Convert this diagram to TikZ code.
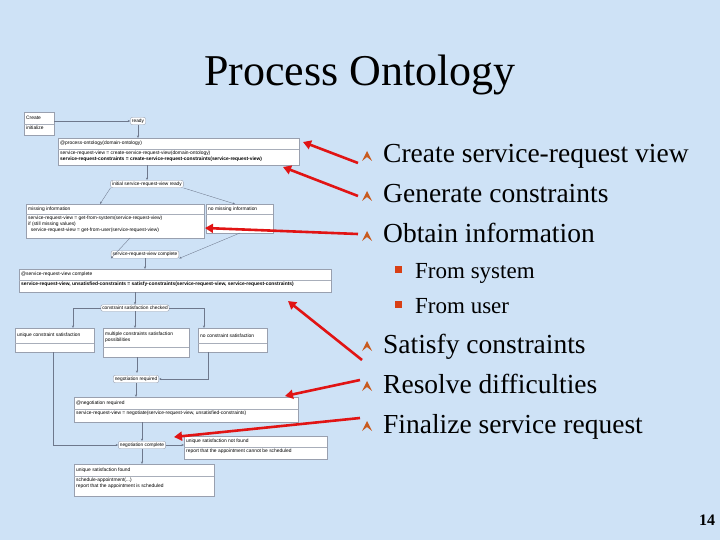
\documentclass[tikz,border=0pt]{standalone}
\usepackage{fontspec}
\setmainfont{Liberation Serif}
\newfontfamily\diag{Liberation Sans}
\usetikzlibrary{arrows.meta}
\definecolor{bg}{RGB}{206,226,246}
\definecolor{ln}{RGB}{110,120,140}
\definecolor{bul}{RGB}{200,90,30}
\definecolor{redar}{RGB}{225,20,20}
\tikzset{
 ubx/.style={draw=ln!70,fill=white,line width=0.4pt,inner sep=0pt},
 st/.style={draw=ln!70,fill=white,rounded corners=2pt,font=\diag\fontsize{4.8}{5}\selectfont,inner sep=1.5pt},
 dt/.style={font=\diag\fontsize{4.9}{6}\selectfont,inner sep=0pt,align=left},
 con/.style={draw=ln,line width=0.35pt,-{Stealth[length=2.5pt,width=2pt]}},
 rarr/.style={draw=redar,line width=2.6pt,-{Triangle[length=8pt,width=9pt]}},
 btxt/.style={font=\fontsize{27.5}{29}\selectfont,anchor=base west,inner sep=0pt},
 stxt/.style={font=\fontsize{23}{25}\selectfont,anchor=base west,inner sep=0pt}
}
\newcommand\ubox[8]{%
 \node[ubx,anchor=north west,minimum width=#4pt-#2pt,minimum height=#5pt-#3pt] (#1) at (#2,#3) {};
 \draw[ln!60,line width=0.3pt] (#2,#6) -- (#4,#6);
 \node[dt,anchor=west] at (#2+2,{(#3+#6)/2}) {#7};
 \node[dt,anchor=north west] at (#2+2,#6+1.5) {#8};}
\newcommand\bsym[2]{\fill[bul] (#1-5,#2) -- (#1,#2-10) -- (#1+5,#2) -- (#1,#2-4) -- cycle;}
\begin{document}
\begin{tikzpicture}[x=1pt,y=-1pt]
\fill[bg] (0,0) rectangle (720,540);
\useasboundingbox (0,0) rectangle (720,540);
\node[font=\fontsize{44}{46}\selectfont] (title) at (360,75) {Process Ontology};
% diagram
\ubox{ci}{24}{112}{54}{135}{124}{Create}{initialize}
\node[st] (ready) at (138,121) {ready};
\ubox{po}{58}{138}{299}{165}{149}{@process-ontology(domain-ontology)}{service-request-view = create-service-request-view(domain-ontology)\\\textbf{service-request-constraints = create-service-request-constraints(service-request-view)}}
\node[st] (init) at (147,184) {initial service-request-view ready};
\ubox{mi}{26}{204}{204}{238}{214}{missing information}{service-request-view = get-from-system(service-request-view)\\if (still missing values)\\\ \ service-request-view = get-from-user(service-request-view)}
\ubox{nm}{206}{204}{273}{233}{214}{no missing information}{}
\node[st] (comp) at (145,254.5) {service-request-view complete};
\ubox{sc}{19}{269}{331}{292}{280}{@service-request-view complete}{\textbf{service-request-view, unsatisfied-constraints = satisfy-constraints(service-request-view, service-request-constraints)}}
\node[st] (chk) at (135,308) {constraint satisfaction checked};
\ubox{uc}{15}{328}{94}{352}{343}{unique constraint satisfaction}{}
\ubox{mc}{103}{328}{189}{357}{347}{multiple constraints satisfaction\\possibilities}{}
\ubox{nc}{198}{328}{267}{352}{343}{no constraint satisfaction}{}
\node[st] (nr) at (136,379) {negotiation required};
\ubox{nb}{74}{397}{298}{422}{409}{@negotiation required}{service-request-view = negotiate(service-request-view, unsatisfied-constraints)}
\node[st] (nco) at (142,445) {negotiation complete};
\ubox{nf}{184}{436}{327}{459}{447}{unique satisfaction not found}{report that the appointment cannot be scheduled}
\ubox{fd}{74}{464}{214}{496}{476}{unique satisfaction found}{schedule-appointment(...)\\report that the appointment is scheduled}
% connectors
\draw[con] (ci.east |- ready) -- (ready);
\draw[con] (ready.south) -- (ready.south |- po.north);
\draw[con] (po.south -| init) -- (init);
\draw[con] (init.south west) -- (100,204);
\draw[con] (init.south east) -- (235,204);
\draw[con] (130,238) -- (comp.south west);
\draw[con] (240,233) -- (comp.south east);
\draw[con] (comp) -- (comp |- sc.north);
\draw[con] (sc.south -| chk) -- (chk);
\draw[con] (chk.west) -| (73,328);
\draw[con] (chk.south) -- (chk.south |- mc.north);
\draw[con] (chk.east) -| (204,328);
\draw[con] (137,357) -- (137,373);
\draw[con] (208,352) |- (nr.east);
\draw[con] (nr) -- (nr |- nb.north);
\draw[con] (nb.south -| nco) -- (nco);
\draw[con] (53,352) |- (nco.west);
\draw[con] (nco.east) -- (nco.east -| nf.west);
\draw[con] (nco) -- (nco |- fd.north);
% bullets
\bsym{367}{161}\node[btxt] (b1) at (383,163) {Create service-request view};
\bsym{367}{201}\node[btxt] (b2) at (383,203) {Generate constraints};
\bsym{367}{241}\node[btxt] (b3) at (383,243) {Obtain information};
\fill[bul!70!red] (395,266) rectangle (402,273);
\node[stxt] (s1) at (415,278) {From system};
\fill[bul!70!red] (395,301) rectangle (402,308);
\node[stxt] (s2) at (415,313) {From user};
\bsym{367}{351}\node[btxt] (b4) at (383,353) {Satisfy constraints};
\bsym{367}{391}\node[btxt] (b5) at (383,393) {Resolve difficulties};
\bsym{367}{431}\node[btxt] (b6) at (383,433) {Finalize service request};
\coordinate (r1) at (358,163);
\coordinate (r2) at (358,196);
\coordinate (r3) at (358,234);
\coordinate (r4) at (362,360);
\coordinate (r5) at (360,380);
\coordinate (r6) at (360,418);
\draw[rarr] (r1) -- (303,142);
\draw[rarr] (r2) -- (283,167);
\draw[rarr] (r3) -- (205,228);
\draw[rarr] (r4) -- (288,301);
\draw[rarr] (r5) -- (285,396);
\draw[rarr] (r6) -- (174,437);
\node[font=\bfseries\fontsize{16}{18}\selectfont] (pg) at (707,520) {14};
\end{tikzpicture}
\end{document}
